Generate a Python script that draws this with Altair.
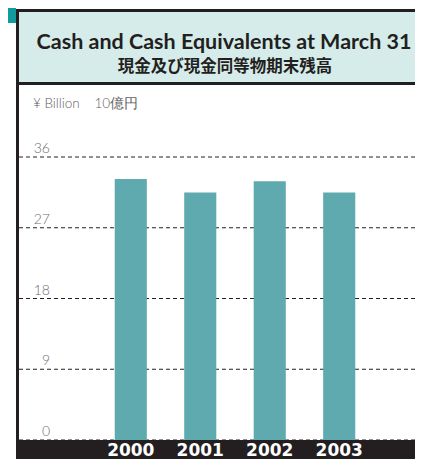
import altair as alt
import pandas as pd

years = ["2000", "2001", "2002", "2003"]
values = [33.2, 31.5, 32.9, 31.5]
ticks = [0, 9, 18, 27, 36]
title_en = "Cash and Cash Equivalents at March 31"
title_jp = "現金及び現金同等物期末残高"
unit_label = "¥ Billion\u00a0\u00a0\u00a0\u00a010億円"

DARK = "#231f20"
TEAL = "#129b9b"
HEADER = "#d6ecea"
BAR = "#5eaaae"

df = pd.DataFrame({"year": years, "value": values})
tk = pd.DataFrame({"tick": ticks, "label": [str(t) for t in ticks]})
one = alt.Data(values=[{}])

yscale = alt.Scale(domain=[0, 36], range=[432, 149], nice=False, zero=True)
xscale = alt.Scale(domain=years, range=[72, 382], paddingInner=0.538, paddingOuter=0.5)


def box(x, x2, y, y2, color):
    return alt.Chart(one).mark_rect(color=color).encode(
        x=alt.value(x), x2=alt.value(x2), y=alt.value(y), y2=alt.value(y2)
    )


teal_corner = box(0, 8, 0, 15, TEAL)
header = box(8, 415, 1, 77, HEADER)
top_border = box(8, 415, 1, 4, DARK)
header_line = box(8, 415, 74, 77, DARK)
left_border = box(8, 11, 1, 459, DARK)
bottom_band = box(8, 415, 432, 459, DARK)

t_en = alt.Chart(one).mark_text(
    text=title_en, font="Lato", fontWeight="bold", fontSize=21.5, color=DARK, align="center"
).encode(x=alt.value(216), y=alt.value(35))
t_jp = alt.Chart(one).mark_text(
    text=title_jp, font="Noto Sans CJK JP", fontWeight="bold", fontSize=16.5, color=DARK, align="center"
).encode(x=alt.value(217), y=alt.value(59))
unit = alt.Chart(one).mark_text(
    text=unit_label, font="Lato", fontWeight=300, fontSize=13.5, color="#606060", align="left"
).encode(x=alt.value(25), y=alt.value(96))

grid = alt.Chart(tk).mark_rule(color=DARK, strokeDash=[4, 3], strokeWidth=1).encode(
    y=alt.Y("tick:Q", scale=yscale, axis=None), x=alt.value(11), x2=alt.value(415)
)
tick_labels = alt.Chart(tk).mark_text(
    font="Lato", fontWeight=300, fontSize=14, color="#707070", align="right", baseline="alphabetic", dy=-4
).encode(y=alt.Y("tick:Q", scale=yscale, axis=None), x=alt.value(42), text="label:N")

bars = alt.Chart(df).mark_bar(color=BAR).encode(
    x=alt.X("year:N", scale=xscale, axis=None),
    y=alt.Y("value:Q", scale=yscale, axis=None),
)
year_labels = alt.Chart(df).mark_text(
    font="DejaVu Sans", fontWeight="bold", fontSize=17, color="white", baseline="alphabetic"
).encode(x=alt.X("year:N", scale=xscale, axis=None), y=alt.value(448), text="year:N")

chart = alt.layer(
    teal_corner, header, top_border, header_line, grid, bars, bottom_band, left_border,
    t_en, t_jp, unit, tick_labels, year_labels
).properties(
    width=407, height=451, padding=0, autosize=alt.AutoSizeParams(type="none")
).configure_view(stroke=None)

chart.save("out.html", embed_options={"renderer": "svg", "actions": False})
